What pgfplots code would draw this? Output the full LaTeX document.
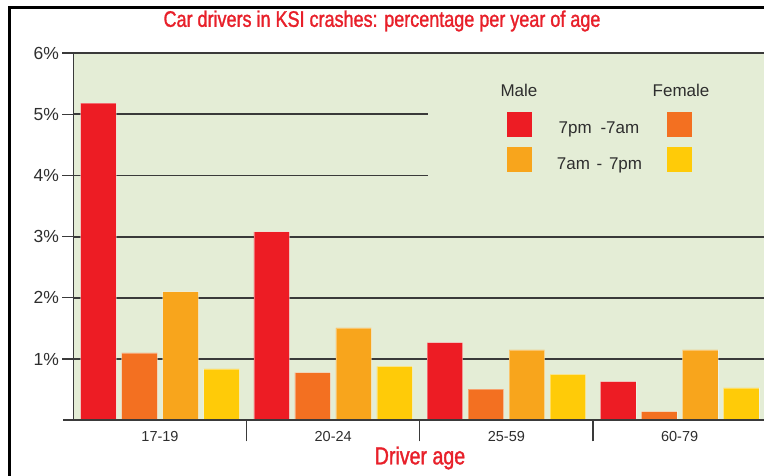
\documentclass[border=0pt]{standalone}
\usepackage{pgfplots}
\pgfplotsset{compat=1.18}
\usepackage{fontspec}
\setmainfont{Liberation Sans}
\newfontfamily\titlefont[FakeStretch=0.8,FakeBold=1.3]{Liberation Sans}
\definecolor{cRed}{HTML}{ED1C24}
\definecolor{cOrange}{HTML}{F37021}
\definecolor{cLtOrange}{HTML}{F8A51C}
\definecolor{cYellow}{HTML}{FFCB08}
\definecolor{bgGreen}{HTML}{E4EDD6}
\definecolor{titleRed}{HTML}{E8202A}
\definecolor{gridc}{HTML}{3A3A3A}
\definecolor{txt}{HTML}{2E2E2E}
\begin{document}
\begin{tikzpicture}[x=1pt,y=1pt]
\clip (0,0) rectangle (764,475);
\fill[white] (0,0) rectangle (764,475);
\begin{axis}[
  at={(73.4pt,54.7pt)}, anchor=south west,
  scale only axis, width=692.8pt, height=367.3pt,
  xmin=-0.5, xmax=3.5, ymin=0, ymax=6,
  clip=false,
  ybar=5.5pt, bar width=35.5pt,
  axis background/.style={fill=bgGreen},
  axis line style={draw=none},
  tick align=outside,
  major tick length=11pt,
  minor tick length=21pt,
  ytick={1,2,3,4,5,6},
  yticklabels={1\%,2\%,3\%,4\%,5\%,6\%},
  ytick pos=left,
  ytick style={draw=gridc, line width=1.2pt},
  yticklabel style={font=\fontsize{17.5}{17.5}\selectfont, text=txt},
  xtick={0,1,2,3},
  xticklabels={17-19,20-24,25-59,60-79},
  xtick pos=bottom,
  xtick style={draw=none},
  minor xtick={0.5,1.5,2.5},
  minor x tick style={draw=gridc, line width=1.2pt},
  xticklabel style={font=\fontsize{14.5}{14.5}\selectfont, text=txt, yshift=3pt},
  every axis plot/.append style={draw=white, draw opacity=0.35, line width=0.6pt},
]
% gridlines
\draw[gridc, line width=1.8pt] (axis cs:-0.5,1) -- (axis cs:3.5,1);
\draw[gridc, line width=1.8pt] (axis cs:-0.5,2) -- (axis cs:3.5,2);
\draw[gridc, line width=1.8pt] (axis cs:-0.5,3) -- (axis cs:3.5,3);
\draw[gridc, line width=1.8pt] (axis cs:-0.5,4) -- (axis cs:1.547,4);
\draw[gridc, line width=1.8pt] (axis cs:-0.5,5) -- (axis cs:1.547,5);
% Male 7pm-7am
\addplot[fill=cRed] coordinates {(0,5.18) (1,3.08) (2,1.27) (3,0.63)};
% Female 7pm-7am
\addplot[fill=cOrange] coordinates {(0,1.10) (1,0.78) (2,0.51) (3,0.14)};
% Male 7am-7pm
\addplot[fill=cLtOrange] coordinates {(0,2.10) (1,1.51) (2,1.15) (3,1.15)};
% Female 7am-7pm
\addplot[fill=cYellow] coordinates {(0,0.84) (1,0.88) (2,0.75) (3,0.53)};
% axis lines
\draw[gridc, line width=1.2pt] (axis cs:-0.5,0) -- (axis cs:-0.5,6);
\draw[gridc, line width=2pt] (axis cs:-0.5,6) -- (axis cs:3.6,6);
\draw[gridc, line width=1.8pt] (axis cs:-0.56,0) -- (axis cs:3.6,0);
\end{axis}
% frame
\draw[black, line width=3pt] (9,-10) -- (9,467) -- (790,467);
% title
\node[text=titleRed, font=\fontsize{22.5}{22.5}\selectfont\titlefont] at (382,454) {Car drivers in KSI crashes: percentage per year of age};
\node[text=titleRed, font=\fontsize{24.5}{24.5}\selectfont\titlefont] at (420,17) {Driver age};
% legend
\fill[cRed] (507.3,338.3) rectangle (531.7,362.7);
\fill[cOrange] (667.3,338.3) rectangle (692.3,362.7);
\fill[cLtOrange] (507.3,302.7) rectangle (531.7,328.3);
\fill[cYellow] (667.3,302.7) rectangle (692.3,328.3);
\node[text=txt, font=\fontsize{17}{17}\selectfont] at (519,385) {Male};
\node[text=txt, font=\fontsize{17}{17}\selectfont] at (681,385) {Female};
\node[text=txt, font=\fontsize{17}{17}\selectfont] at (599,345.7) {7pm\hspace{4pt} -7am};
\node[text=txt, font=\fontsize{17}{17}\selectfont] at (599.5,309.3) {7am\hspace{2pt} -\hspace{2pt} 7pm};
\end{tikzpicture}
\end{document}
